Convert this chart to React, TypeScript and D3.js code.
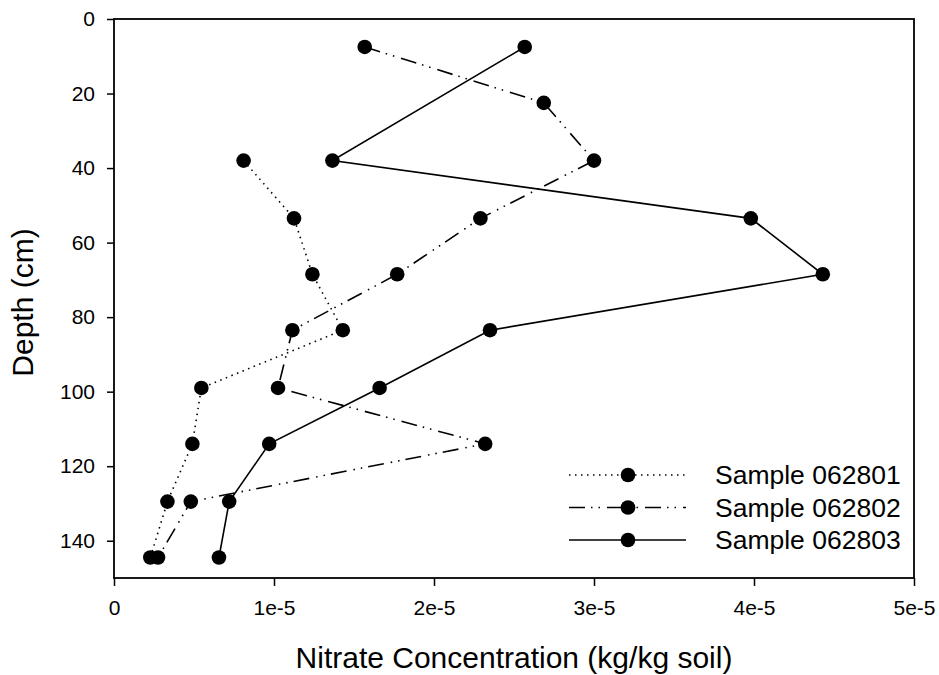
import React, { useEffect, useRef } from 'react';
import * as d3 from 'd3';

// depth of each sampling layer (cm)
const depths = [7.5, 22.5, 38, 53.5, 68.5, 83.5, 99, 114, 129.5, 144.5];

// nitrate concentration per layer (kg/kg soil), null where no sample
const sample062801 = [null, null, 0.81e-5, 1.125e-5, 1.24e-5, 1.43e-5, 0.546e-5, 0.49e-5, 0.334e-5, 0.227e-5];
const sample062802 = [1.567e-5, 2.686e-5, 3.0e-5, 2.29e-5, 1.77e-5, 1.115e-5, 1.025e-5, 2.32e-5, 0.48e-5, 0.275e-5];
const sample062803 = [2.567e-5, null, 1.365e-5, 3.98e-5, 4.43e-5, 2.35e-5, 1.66e-5, 0.97e-5, 0.72e-5, 0.656e-5];

const xTicks = [0, 1e-5, 2e-5, 3e-5, 4e-5, 5e-5];
const xTickLabels = ['0', '1e-5', '2e-5', '3e-5', '4e-5', '5e-5'];
const yTicks = [0, 20, 40, 60, 80, 100, 120, 140];

const seriesNames = ['Sample 062801', 'Sample 062802', 'Sample 062803'];
const seriesValues = [sample062801, sample062802, sample062803];
// dotted, dash-dot-dot, solid
const seriesDash = ['1.5,4.5', '16,6,1.5,6,1.5,7', null];

const FONT = '"Liberation Sans", Arial, Helvetica, sans-serif';

export default function App() {
  const svgRef = useRef(null);

  useEffect(() => {
    const width = 939;
    const height = 675;
    const margin = { top: 19, right: 25, bottom: 97, left: 114 };
    const innerW = width - margin.left - margin.right;
    const innerH = height - margin.top - margin.bottom;

    const svg = d3.select(svgRef.current);
    svg.selectAll('*').remove();
    svg.attr('width', width).attr('height', height);

    const g = svg
      .append('g')
      .attr('transform', `translate(${margin.left},${margin.top})`);

    // scales
    const x = d3.scaleLinear().domain([0, 5e-5]).range([0, innerW]);
    const y = d3.scaleLinear().domain([0, 150]).range([0, innerH]);

    // frame around plot area
    g.append('rect')
      .attr('width', innerW)
      .attr('height', innerH)
      .attr('fill', 'none')
      .attr('stroke', '#000')
      .attr('stroke-width', 1.8);

    // x axis
    const xAxis = g
      .append('g')
      .attr('transform', `translate(0,${innerH})`)
      .call(
        d3
          .axisBottom(x)
          .tickValues(xTicks)
          .tickSize(8)
          .tickPadding(14)
          .tickFormat((d, i) => xTickLabels[i]),
      );
    xAxis.select('.domain').remove();
    xAxis.selectAll('line').attr('stroke-width', 1.5);
    xAxis
      .selectAll('text')
      .style('font-family', FONT)
      .style('font-size', '21px')
      .attr('fill', '#000');

    // y axis
    const yAxis = g
      .append('g')
      .call(d3.axisLeft(y).tickValues(yTicks).tickSize(7).tickPadding(12));
    yAxis.select('.domain').remove();
    yAxis.selectAll('line').attr('stroke-width', 1.5);
    yAxis
      .selectAll('text')
      .style('font-family', FONT)
      .style('font-size', '21px')
      .attr('fill', '#000');

    // axis titles
    svg
      .append('text')
      .attr('x', margin.left + innerW / 2)
      .attr('y', 668)
      .attr('text-anchor', 'middle')
      .style('font-family', FONT)
      .style('font-size', '30px')
      .text('Nitrate Concentration (kg/kg soil)');

    svg
      .append('text')
      .attr('transform', `translate(33,${margin.top + innerH / 2 + 4}) rotate(-90)`)
      .attr('text-anchor', 'middle')
      .style('font-family', FONT)
      .style('font-size', '30px')
      .text('Depth (cm)');

    // lines and markers
    const line = d3
      .line()
      .x((d) => x(d[0]))
      .y((d) => y(d[1]));

    seriesValues.forEach((vals, i) => {
      const pts = vals
        .map((v, j) => [v, depths[j]])
        .filter((p) => p[0] !== null);

      g.append('path')
        .datum(pts)
        .attr('d', line)
        .attr('fill', 'none')
        .attr('stroke', '#000')
        .attr('stroke-width', 1.6)
        .attr('stroke-dasharray', seriesDash[i]);

      g.selectAll(null)
        .data(pts)
        .enter()
        .append('circle')
        .attr('cx', (d) => x(d[0]))
        .attr('cy', (d) => y(d[1]))
        .attr('r', 7.3)
        .attr('fill', '#000');
    });

    // legend
    const legend = svg
      .append('g')
      .selectAll('g')
      .data(seriesNames)
      .enter()
      .append('g')
      .attr('transform', (d, i) => `translate(569,${475 + i * 32.5})`);

    legend
      .append('line')
      .attr('x1', 0)
      .attr('x2', 117)
      .attr('stroke', '#000')
      .attr('stroke-width', 1.6)
      .attr('stroke-dasharray', (d, i) => seriesDash[i]);

    legend
      .append('circle')
      .attr('cx', 59)
      .attr('r', 7.3)
      .attr('fill', '#000');

    legend
      .append('text')
      .attr('x', 146)
      .attr('dy', '0.35em')
      .style('font-family', FONT)
      .style('font-size', '26.5px')
      .text((d) => d);
  }, []);

  return (
    <svg
      ref={svgRef}
      style={{ position: 'absolute', left: 0, top: 0, background: '#fff' }}
    />
  );
}
